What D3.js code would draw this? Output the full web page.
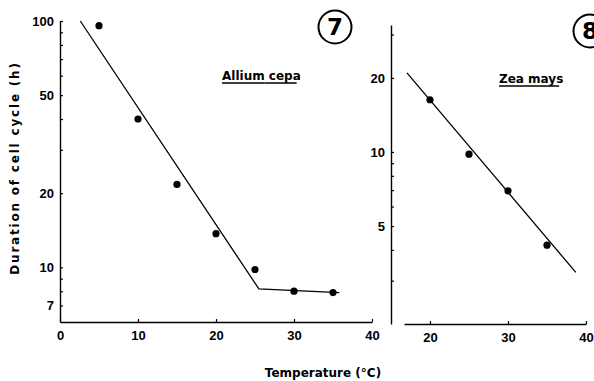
<!DOCTYPE html>
<html>
<head>
<meta charset="utf-8">
<script src="https://cdn.jsdelivr.net/npm/d3@7"></script>
<style>
  body { margin: 0; background: #fff; }
  svg { display: block; font-family: "DejaVu Sans", sans-serif; font-weight: bold; }
</style>
</head>
<body>
<div id="chart"></div>
<script>
// Allium cepa (panel 7)
const alliumTemp = [5, 10, 15, 20, 25, 30, 35];
const alliumHours = [95.7, 40, 21.7, 13.7, 9.8, 8.0, 7.9];
const alliumFitTemp = [2.6, 25.5, 35.8];
const alliumFitHours = [100, 8.17, 7.9];
const alliumYTicks = [7, 10, 20, 50, 100];
const alliumYMinor = [8, 9, 30, 40, 60, 70, 80, 90];
const alliumXTicks = [0, 10, 20, 30, 40];

// Zea mays (panel 8)
const zeaTemp = [20, 25, 30, 35];
const zeaHours = [16.3, 9.8, 6.95, 4.18];
const zeaFitTemp = [17.05, 38.7];
const zeaFitHours = [20.96, 3.24];
const zeaYTicks = [5, 10, 20];
const zeaYMinor = [3, 4, 6, 7, 8, 9, 30];
const zeaXTicks = [20, 30, 40];

const W = 594, H = 381;
const svg = d3.select("#chart").append("svg")
  .attr("width", W).attr("height", H);

function panel(opt) {
  const x = d3.scaleLinear().domain(opt.xDomain).range(opt.xRange);
  const y = d3.scaleLog().domain(opt.yDomain).range(opt.yRange);
  const g = svg.append("g");

  // x axis
  const xAxis = g.append("g")
    .attr("transform", "translate(0," + opt.xAxisY + ")")
    .call(d3.axisBottom(x).tickValues(opt.xTicks).tickSizeInner(-3).tickSizeOuter(0).tickPadding(9));

  // y axis, labels on majors only
  const yAll = opt.yTicks.concat(opt.yMinor);
  const yAxis = g.append("g")
    .attr("transform", "translate(" + opt.yAxisX + ",0)")
    .call(d3.axisLeft(y).tickValues(yAll).tickSizeInner(-3).tickSizeOuter(0).tickPadding(6)
      .tickFormat(d => opt.yTicks.includes(d) ? d : ""));

  [xAxis, yAxis].forEach(a => {
    a.selectAll("text").attr("fill", "#000").style("font-size", "13px").style("font-weight", "bold");
    a.selectAll("line").attr("stroke", "#000").attr("stroke-width", 1.2);
    a.select(".domain").attr("stroke", "#000").attr("stroke-width", 1.4);
  });

  // fitted line
  const fit = opt.fitTemp.map((t, i) => [t, opt.fitHours[i]]);
  g.append("path")
    .datum(fit)
    .attr("fill", "none")
    .attr("stroke", "#000")
    .attr("stroke-width", 1.3)
    .attr("d", d3.line().x(d => x(d[0])).y(d => y(d[1])));

  // points
  g.selectAll("circle.pt")
    .data(opt.temp.map((t, i) => [t, opt.hours[i]]))
    .enter().append("circle")
    .attr("class", "pt")
    .attr("cx", d => x(d[0]))
    .attr("cy", d => y(d[1]))
    .attr("r", 3.6)
    .attr("fill", "#000");

  // species label, each word underlined
  const lab = g.append("text")
    .attr("x", opt.labelX).attr("y", opt.labelY)
    .style("font-size", "12px")
    .text(opt.label);
  const words = opt.label.split(" ");
  let cx = opt.labelX;
  words.forEach((w, i) => {
    const t = g.append("text").attr("x", -100).attr("y", -100).style("font-size", "12px").text(w);
    const ww = t.node().getComputedTextLength();
    t.remove();
    g.append("line")
      .attr("x1", cx).attr("x2", cx + ww)
      .attr("y1", opt.labelY + 3).attr("y2", opt.labelY + 3)
      .attr("stroke", "#000").attr("stroke-width", 1.5);
    const sp = g.append("text").attr("x", -100).attr("y", -100).style("font-size", "12px").text(w + " ");
    cx += sp.node().getComputedTextLength();
    sp.remove();
  });

  // figure number in a circle
  g.append("circle")
    .attr("cx", opt.numX).attr("cy", opt.numY).attr("r", 16.5)
    .attr("fill", "none").attr("stroke", "#000").attr("stroke-width", 2);
  g.append("text")
    .attr("x", opt.numX).attr("y", opt.numY + 8)
    .attr("text-anchor", "middle")
    .style("font-size", "23px")
    .text(opt.num);
}

panel({
  xDomain: [0, 40], xRange: [60, 372],
  yDomain: [6, 100], yRange: [322, 21],
  xAxisY: 322, yAxisX: 60,
  xTicks: alliumXTicks, yTicks: alliumYTicks, yMinor: alliumYMinor,
  temp: alliumTemp, hours: alliumHours,
  fitTemp: alliumFitTemp, fitHours: alliumFitHours,
  label: "Allium cepa", labelX: 222, labelY: 80,
  num: "7", numX: 335, numY: 27
});

panel({
  xDomain: [16.67, 40], xRange: [404, 586],
  yDomain: [2, 32.8], yRange: [324, 25],
  xAxisY: 324, yAxisX: 391,
  xTicks: zeaXTicks, yTicks: zeaYTicks, yMinor: zeaYMinor,
  temp: zeaTemp, hours: zeaHours,
  fitTemp: zeaFitTemp, fitHours: zeaFitHours,
  label: "Zea mays", labelX: 499, labelY: 83,
  num: "8", numX: 590, numY: 31
});

// shared axis titles
svg.append("text")
  .attr("transform", "translate(19,168) rotate(-90)")
  .attr("text-anchor", "middle")
  .style("font-size", "12px")
  .style("letter-spacing", "1.8px")
  .text("Duration of cell cycle (h)");

svg.append("text")
  .attr("x", 323).attr("y", 377)
  .attr("text-anchor", "middle")
  .style("font-size", "12px")
  .text("Temperature (°C)");
</script>
</body>
</html>
